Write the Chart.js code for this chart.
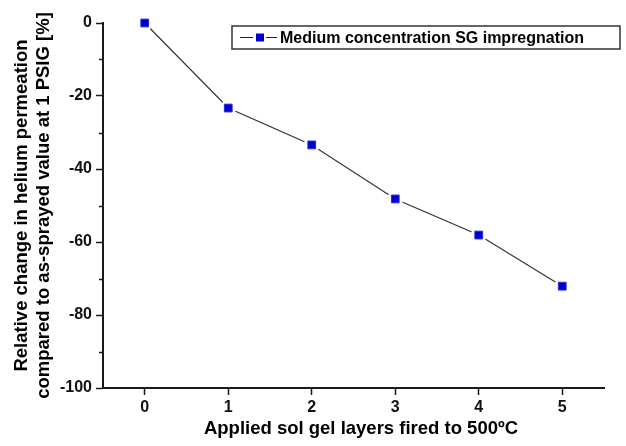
<!DOCTYPE html>
<html>
<head>
<meta charset="utf-8">
<script src="https://cdn.jsdelivr.net/npm/chart.js@4/dist/chart.umd.min.js"></script>
<style>
  html, body { margin: 0; padding: 0; background: #ffffff; }
  #wrap { width: 626px; height: 446px; position: relative; }
</style>
</head>
<body>
<div id="wrap"><canvas id="c" width="626" height="446"></canvas></div>
<script>
// ---- data ----
const layers = [0, 1, 2, 3, 4, 5];
const relChange = [0, -23.3, -33.4, -48.2, -58.1, -72.1];
const seriesLabel = 'Medium concentration SG impregnation';
const xTitle = 'Applied sol gel layers fired to 500ºC';
const yTitle = ['Relative change in helium permeation', 'compared to as-sprayed value at 1 PSIG [%]'];
const yTickStep = 20;

const points = layers.map((x, i) => ({ x: x, y: relChange[i] }));
const FONT = "'Liberation Sans', Arial, Helvetica, sans-serif";
const AXIS = '#1a1a1a';

const minorTicks = {
  id: 'minorTicks',
  afterDraw(chart) {
    const ys = chart.scales.y;
    const ctx = chart.ctx;
    const ticks = ys.ticks.map(t => t.value).sort((a, b) => a - b);
    ctx.save();
    ctx.strokeStyle = AXIS;
    ctx.lineWidth = 1.5;
    for (let i = 0; i < ticks.length - 1; i++) {
      const v = (ticks[i] + ticks[i + 1]) / 2;
      const py = Math.round(ys.getPixelForValue(v)) + 0.5;
      ctx.beginPath();
      ctx.moveTo(ys.right - 4, py);
      ctx.lineTo(ys.right, py);
      ctx.stroke();
    }
    ctx.restore();
  }
};

const xAxisTitle = {
  id: 'xAxisTitle',
  afterDraw(chart) {
    const ctx = chart.ctx;
    ctx.save();
    ctx.fillStyle = '#000000';
    ctx.font = 'bold 18.5px ' + FONT;
    ctx.textAlign = 'center';
    ctx.textBaseline = 'alphabetic';
    ctx.fillText(xTitle, 361, 434);
    ctx.restore();
  }
};

const boxLegend = {
  id: 'boxLegend',
  afterDraw(chart) {
    const ctx = chart.ctx;
    const ds = chart.data.datasets[0];
    const x0 = 232, y0 = 26, w = 388, h = 23;
    ctx.save();
    ctx.fillStyle = '#ffffff';
    ctx.fillRect(x0, y0, w, h);
    ctx.strokeStyle = '#333333';
    ctx.lineWidth = 1.5;
    ctx.strokeRect(x0, y0, w, h);
    const cy = y0 + h / 2;
    ctx.strokeStyle = '#222222';
    ctx.lineWidth = 1.2;
    ctx.beginPath();
    ctx.moveTo(x0 + 8, cy); ctx.lineTo(x0 + 21, cy);
    ctx.moveTo(x0 + 34, cy); ctx.lineTo(x0 + 45, cy);
    ctx.stroke();
    ctx.fillStyle = ds.pointBackgroundColor;
    ctx.fillRect(x0 + 24, cy - 4, 8, 8);
    ctx.fillStyle = '#000000';
    ctx.font = 'bold 16px ' + FONT;
    ctx.textBaseline = 'middle';
    ctx.textAlign = 'left';
    ctx.fillText(ds.label, x0 + 48, cy + 1);
    ctx.restore();
  }
};

new Chart(document.getElementById('c'), {
  type: 'line',
  data: {
    datasets: [
      {
        label: seriesLabel,
        data: points,
        order: 0,
        showLine: false,
        pointStyle: 'rect',
        pointRadius: 5.5,
        pointHoverRadius: 5.5,
        pointBackgroundColor: '#0000cc',
        pointBorderColor: '#2a2ad8',
        pointBorderWidth: 1,
        clip: false
      },
      {
        label: 'halo',
        data: points,
        order: 1,
        showLine: false,
        pointStyle: 'circle',
        pointRadius: 8,
        pointHoverRadius: 8,
        pointBackgroundColor: '#ffffff',
        pointBorderColor: '#ffffff',
        pointBorderWidth: 0,
        clip: false
      },
      {
        label: 'line',
        data: points,
        order: 2,
        borderColor: '#333333',
        borderWidth: 1.2,
        pointRadius: 0,
        tension: 0,
        fill: false,
        clip: false
      }
    ]
  },
  options: {
    responsive: false,
    animation: false,
    events: [],
    layout: { padding: { top: 23, right: 22, left: 0, bottom: 0 } },
    plugins: { legend: { display: false }, tooltip: { enabled: false } },
    scales: {
      x: {
        type: 'linear',
        min: -0.5,
        max: 5.5,
        afterFit(s) { s.height = 58; },
        afterBuildTicks(s) { s.ticks = layers.map(v => ({ value: v })); },
        border: { display: true, color: AXIS, width: 2 },
        grid: { drawOnChartArea: false, drawTicks: true, tickLength: 7, tickColor: AXIS, tickWidth: 1.5 },
        ticks: {
          padding: 3,
          color: '#111111',
          font: { family: FONT, size: 16, weight: 'bold' }
        },
        title: { display: false }
      },
      y: {
        type: 'linear',
        min: -100,
        max: 0,
        afterFit(s) { s.width = 103; },
        border: { display: true, color: AXIS, width: 2 },
        grid: { drawOnChartArea: false, drawTicks: true, tickLength: 7, tickColor: AXIS, tickWidth: 1.5 },
        ticks: {
          stepSize: yTickStep,
          padding: 4,
          color: '#111111',
          font: { family: FONT, size: 16, weight: 'bold' }
        },
        title: {
          display: true,
          text: yTitle,
          color: '#000000',
          padding: { top: 10.5, bottom: 0 },
          font: { family: FONT, size: 18.5, weight: 'bold', lineHeight: 22 / 18.5 }
        }
      }
    }
  },
  plugins: [minorTicks, xAxisTitle, boxLegend]
});
</script>
</body>
</html>
